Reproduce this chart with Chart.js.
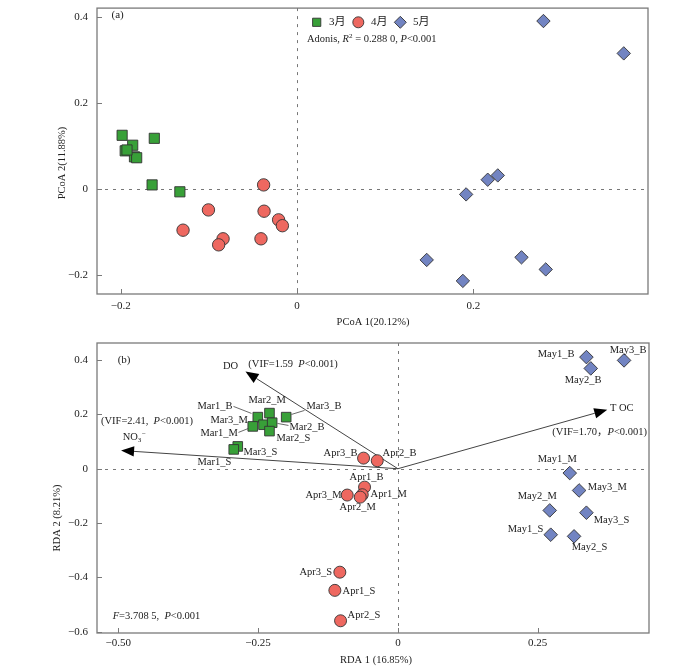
<!DOCTYPE html>
<html><head><meta charset="utf-8">
<script src="https://cdn.jsdelivr.net/npm/chart.js@4.4.1/dist/chart.umd.min.js"></script>
<style>
html,body{margin:0;padding:0;background:#fff;}
#wrap{position:relative;width:700px;height:670px;}
#ca{position:absolute;left:0;top:0;}
#cb{position:absolute;left:0;top:335px;}
</style></head>
<body><div id="wrap"><canvas id="ca" width="700" height="335"></canvas><canvas id="cb" width="700" height="335"></canvas></div>
<script>
// ---------- DATA ----------
const months = ['3月', '4月', '5月'];
// Panel (a) PCoA
const pcoaMarX = [-0.1985, -0.162, -0.1865, -0.195, -0.1845, -0.182, -0.1645, -0.133, -0.193];
const pcoaMarY = [0.125, 0.118, 0.102, 0.089, 0.075, 0.073, 0.010, -0.006, 0.091];
const pcoaAprX = [-0.038, -0.1006, -0.0375, -0.021, -0.0167, -0.1294, -0.084, -0.089, -0.041];
const pcoaAprY = [0.010, -0.048, -0.051, -0.071, -0.0846, -0.095, -0.115, -0.129, -0.115];
const pcoaMayX = [0.2794, 0.3705, 0.2162, 0.2276, 0.1917, 0.147, 0.188, 0.2545, 0.282];
const pcoaMayY = [0.390, 0.315, 0.022, 0.032, -0.012, -0.164, -0.2126, -0.158, -0.186];
const pcoaXTicks = [-0.2, 0, 0.2];
const pcoaYTicks = [-0.2, 0, 0.2, 0.4];
// Panel (b) RDA
const rdaMarNames = ['Mar1_B', 'Mar2_M', 'Mar3_B', 'Mar3_M', 'Mar1_M', 'Mar2_B', 'Mar2_S', 'Mar3_S', 'Mar1_S'];
const rdaMarX = [-0.2505, -0.2296, -0.1997, -0.2403, -0.2595, -0.2248, -0.2296, -0.2863, -0.2935];
const rdaMarY = [0.190, 0.2048, 0.190, 0.162, 0.1558, 0.1694, 0.1385, 0.0821, 0.0711];
const rdaAprNames = ['Apr1_B', 'Apr2_B', 'Apr3_B', 'Apr1_M', 'Apr2_M', 'Apr3_M', 'Apr1_S', 'Apr2_S', 'Apr3_S'];
const rdaAprX = [-0.0596, -0.0369, -0.0614, -0.0637, -0.0673, -0.0906, -0.1127, -0.1025, -0.1038];
const rdaAprY = [-0.0678, 0.0295, 0.039, -0.0958, -0.1046, -0.097, -0.448, -0.560, -0.381];
const rdaMayNames = ['May1_B', 'May2_B', 'May3_B', 'May1_M', 'May2_M', 'May3_M', 'May1_S', 'May2_S', 'May3_S'];
const rdaMayX = [0.3371, 0.3449, 0.4044, 0.3073, 0.2715, 0.324, 0.2733, 0.315, 0.3371];
const rdaMayY = [0.411, 0.3694, 0.399, -0.016, -0.1536, -0.080, -0.243, -0.249, -0.162];
const envNames = ['DO', 'NO3-', 'TOC'];
const envX = [-0.2725, -0.495, 0.3744];
const envY = [0.358, 0.067, 0.2173];
const rdaXTicks = [-0.5, -0.25, 0, 0.25];
const rdaYTicks = [-0.6, -0.4, -0.2, 0, 0.2, 0.4];

// ---------- STYLE ----------
const SERIF = '"Liberation Serif", "Times New Roman", "Noto Sans CJK SC", serif';
const COLORS = ['#38a038', '#ee6860', '#7284c2'];
const STYLES = ['rect', 'circle', 'rectRot'];
const BOXC = '#7a7a7a';
// label offsets (px, text left / middle relative to point)
const offMar = [[-60.3,-10.7],[-21,-12.7],[20.3,-10.7],[-53,-4.3],[-52.3,7],[17.3,4.4],[7,7.6],[5.7,5.7],[-36.3,13.3]];
const offApr = [[-15,-9.4],[5.3,-7.6],[-40,-4.4],[8.3,0],[-20.7,10],[-41.7,0],[7.7,1],[7,-6],[-40.3,0]];
const offMay = [[-48.7,-2.7],[-26,12],[-14.3,-10],[-32,-13.4],[-32,-14.3],[8.7,-3.3],[-43,-5.3],[-2.3,11.3],[7.3,7.7]];
const leadMar = {0:[-24.3,-10.7,-6.3,-3.7], 2:[5.3,-2.7,18.3,-6.7], 4:[-14.3,6,-4.3,2], 5:[5.3,0.7,16.3,2.7]};

function fmt(dec){ return v => Math.abs(v) < 1e-9 ? '0' : (v < 0 ? '\u2212' : '') + Math.abs(v).toFixed(dec); }
function axis(min, max, ticksArr, dec, isX, size, pad){
  return {
    type: 'linear', min, max,
    grid: {display: false, drawTicks: false}, border: {display: false},
    ticks: {padding: pad, font: {family: SERIF, size: 11}, color: '#222', callback: fmt(dec), maxRotation: 0},
    afterBuildTicks: s => { s.ticks = ticksArr.map(v => ({value: v})); },
    afterFit: s => { if (isX) s.height = size; else s.width = size; s.paddingLeft = s.paddingRight = s.paddingTop = s.paddingBottom = 0; }
  };
}
function pts(xs, ys){ return xs.map((x, i) => ({x, y: ys[i]})); }
function ds(label, data, k, r){
  return {label, data, pointStyle: STYLES[k], backgroundColor: COLORS[k], borderColor: '#333', borderWidth: 0.9, pointRadius: r[k], pointHoverRadius: r[k]};
}
function rich(ctx, x, y, segs, size){
  let cx = x;
  ctx.textAlign = 'left'; ctx.textBaseline = 'middle';
  for (const s of segs){
    const fs = (s.sup || s.sub) ? size * 0.68 : size;
    ctx.font = (s.i ? 'italic ' : '') + fs + 'px ' + SERIF;
    const dy = s.sup ? -size * 0.32 : (s.sub ? size * 0.28 : 0);
    ctx.fillText(s.t, cx, y + dy);
    cx += ctx.measureText(s.t).width;
  }
}
function frame(chart){
  const ctx = chart.ctx, a = chart.chartArea, xs = chart.scales.x, ys = chart.scales.y;
  ctx.save();
  ctx.strokeStyle = '#777'; ctx.lineWidth = 1; ctx.setLineDash([3, 5]);
  const x0 = Math.round(xs.getPixelForValue(0)) + 0.5, y0 = Math.round(ys.getPixelForValue(0)) + 0.5;
  ctx.beginPath(); ctx.moveTo(x0, a.top); ctx.lineTo(x0, a.bottom); ctx.stroke();
  ctx.beginPath(); ctx.moveTo(a.left, y0); ctx.lineTo(a.right, y0); ctx.stroke();
  ctx.setLineDash([]);
  ctx.strokeStyle = BOXC; ctx.lineWidth = 1.3;
  ctx.strokeRect(a.left, a.top, a.right - a.left, a.bottom - a.top);
  ctx.lineWidth = 1;
  xs.ticks.forEach(t => { const p = Math.round(xs.getPixelForValue(t.value)) + 0.5; ctx.beginPath(); ctx.moveTo(p, a.bottom); ctx.lineTo(p, a.bottom - 5); ctx.stroke(); });
  ys.ticks.forEach(t => { const p = Math.round(ys.getPixelForValue(t.value)) + 0.5; ctx.beginPath(); ctx.moveTo(a.left, p); ctx.lineTo(a.left + 5, p); ctx.stroke(); });
  ctx.restore();
}
function axisTitles(ctx, xt, xx, xy, yt, yx, yy){
  ctx.save(); ctx.fillStyle = '#222'; ctx.font = '10.5px ' + SERIF; ctx.textAlign = 'center'; ctx.textBaseline = 'middle';
  ctx.fillText(xt, xx, xy);
  ctx.translate(yx, yy); ctx.rotate(-Math.PI / 2); ctx.fillText(yt, 0, 0);
  ctx.restore();
}

// ---------- PANEL A ----------
const decoA = {
  id: 'decoA',
  beforeDatasetsDraw(chart){ frame(chart); },
  afterDraw(chart){
    const ctx = chart.ctx;
    axisTitles(ctx, 'PCoA 1(20.12%)', 373, 322, 'PCoA 2(11.88%)', 62, 163);
    ctx.save(); ctx.fillStyle = '#222';
    rich(ctx, 111.5, 15, [{t: '(a)'}], 11);
    const lx = [316.7, 358.3, 400.3], tx = [329, 371, 413], ly = 22.3, lr = [5.8, 5.5, 6];
    chart.data.datasets.forEach((d, k) => {
      ctx.fillStyle = COLORS[k]; ctx.strokeStyle = '#333'; ctx.lineWidth = 0.9;
      Chart.helpers.drawPoint(ctx, {pointStyle: STYLES[k], radius: lr[k], rotation: 0, borderWidth: 0.9}, lx[k], ly);
      ctx.fillStyle = '#222';
      rich(ctx, tx[k], ly, [{t: d.label}], 11);
    });
    rich(ctx, 307, 39.5, [{t: 'Adonis, '}, {t: 'R', i: true}, {t: '2', sup: true}, {t: ' = 0.288 0, '}, {t: 'P', i: true}, {t: '<0.001'}], 10.5);
    ctx.restore();
  }
};
const rA = [7.2, 6.2, 6.7];
new Chart(document.getElementById('ca'), {
  type: 'scatter',
  data: {datasets: [
    ds(months[0], pts(pcoaMarX, pcoaMarY), 0, rA),
    ds(months[1], pts(pcoaAprX, pcoaAprY), 1, rA),
    ds(months[2], pts(pcoaMayX, pcoaMayY), 2, rA)
  ]},
  options: {
    responsive: false, animation: false, events: [],
    layout: {padding: {left: 0, right: 52, top: 4, bottom: 0}},
    plugins: {legend: {display: false}, tooltip: {enabled: false}},
    scales: {
      x: axis(-0.227, 0.398, pcoaXTicks, 1, true, 41, 6),
      y: axis(-0.243, 0.42, pcoaYTicks, 1, false, 97, 9)
    }
  },
  plugins: [decoA]
});

// ---------- PANEL B ----------
const decoB = {
  id: 'decoB',
  beforeDatasetsDraw(chart){
    frame(chart);
    const ctx = chart.ctx, xs = chart.scales.x, ys = chart.scales.y;
    const ox = xs.getPixelForValue(0), oy = ys.getPixelForValue(0);
    ctx.save();
    envNames.forEach((n, i) => {
      const tx = xs.getPixelForValue(envX[i]), ty = ys.getPixelForValue(envY[i]);
      const dx = tx - ox, dy = ty - oy, L = Math.hypot(dx, dy), ux = dx / L, uy = dy / L;
      const hl = 13, hw = 5.2;
      const bx = tx - ux * hl, by = ty - uy * hl;
      ctx.strokeStyle = '#444'; ctx.lineWidth = 1;
      ctx.beginPath(); ctx.moveTo(ox, oy); ctx.lineTo(bx, by); ctx.stroke();
      ctx.fillStyle = '#000';
      ctx.beginPath(); ctx.moveTo(tx, ty); ctx.lineTo(bx - uy * hw, by + ux * hw); ctx.lineTo(bx + uy * hw, by - ux * hw); ctx.closePath(); ctx.fill();
    });
    ctx.restore();
  },
  afterDraw(chart){
    const ctx = chart.ctx;
    axisTitles(ctx, 'RDA 1 (16.85%)', 376, 325, 'RDA 2 (8.21%)', 57, 183);
    ctx.save(); ctx.fillStyle = '#222';
    const FS = 10.5;
    rich(ctx, 117.7, 25, [{t: '(b)'}], 11);
    rich(ctx, 223, 31, [{t: 'DO'}], FS);
    rich(ctx, 248.3, 29.3, [{t: '(VIF=1.59  '}, {t: 'P', i: true}, {t: '<0.001)'}], FS);
    rich(ctx, 101, 86.7, [{t: '(VIF=2.41,  '}, {t: 'P', i: true}, {t: '<0.001)'}], FS);
    rich(ctx, 122.7, 102.3, [{t: 'NO'}, {t: '3', sub: true}, {t: '\u2212', sup: true}], FS);
    rich(ctx, 610, 73.3, [{t: 'T OC'}], FS);
    rich(ctx, 552.3, 97.3, [{t: '(VIF=1.70\uFF0C'}, {t: 'P', i: true}, {t: '<0.001)'}], FS);
    rich(ctx, 112.7, 281.7, [{t: 'F', i: true}, {t: '=3.708 5,  '}, {t: 'P', i: true}, {t: '<0.001'}], FS);
    const groups = [[rdaMarNames, offMar], [rdaAprNames, offApr], [rdaMayNames, offMay]];
    groups.forEach((g, k) => {
      const meta = chart.getDatasetMeta(k);
      g[0].forEach((name, j) => {
        const el = meta.data[j];
        rich(ctx, el.x + g[1][j][0], el.y + g[1][j][1], [{t: name}], FS);
        if (k === 0 && leadMar[j]){
          const l = leadMar[j];
          ctx.strokeStyle = '#444'; ctx.lineWidth = 0.8;
          ctx.beginPath(); ctx.moveTo(el.x + l[0], el.y + l[1]); ctx.lineTo(el.x + l[2], el.y + l[3]); ctx.stroke();
        }
      });
    });
    ctx.restore();
  }
};
const rB = [6.8, 6.0, 6.8];
new Chart(document.getElementById('cb'), {
  type: 'scatter',
  data: {datasets: [
    ds(months[0], pts(rdaMarX, rdaMarY), 0, rB),
    ds(months[1], pts(rdaAprX, rdaAprY), 1, rB),
    ds(months[2], pts(rdaMayX, rdaMayY), 2, rB)
  ]},
  options: {
    responsive: false, animation: false, events: [],
    layout: {padding: {left: 0, right: 51, top: 8, bottom: 0}},
    plugins: {legend: {display: false}, tooltip: {enabled: false}},
    scales: {
      x: axis(-0.538, 0.449, rdaXTicks, 2, true, 37, 4),
      y: axis(-0.605, 0.463, rdaYTicks, 1, false, 97, 9)
    }
  },
  plugins: [decoB]
});
</script>
</body></html>
